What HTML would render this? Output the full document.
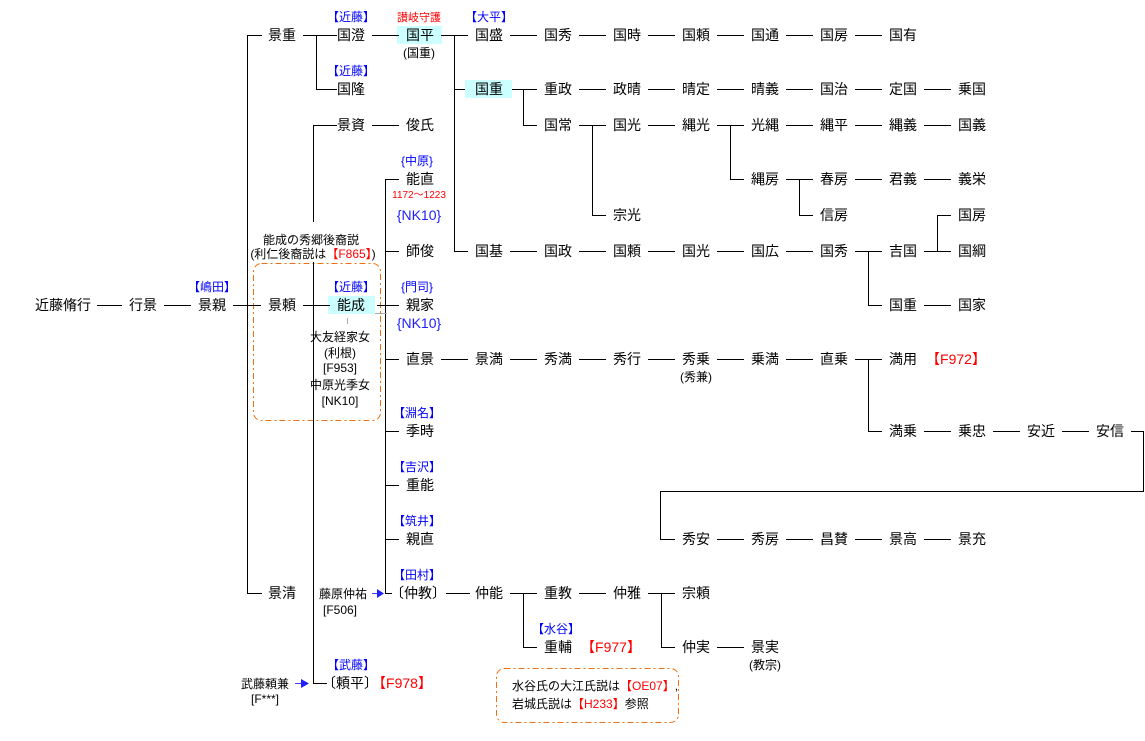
<!DOCTYPE html>
<html><head><meta charset="utf-8"><style>
html,body{margin:0;padding:0;background:#fff;}
svg{display:block;font-family:"Liberation Sans","Noto Sans CJK JP",sans-serif;}
.n{font-size:14px;fill:#000;text-anchor:middle;}
.s{font-size:12px;fill:#000;text-anchor:middle;}
.b{font-size:12px;fill:#0000ff;text-anchor:middle;}
.r{font-size:12px;fill:#ff0000;text-anchor:middle;}
.rn{font-size:14px;fill:#ff0000;text-anchor:middle;}
.bn{font-size:14px;fill:#2020ff;text-anchor:middle;}
</style></head><body>
<svg width="1145" height="741" viewBox="0 0 1145 741">
<!-- highlight boxes -->
<rect x="397" y="26" width="45" height="18" fill="#ccffff"/>
<rect x="465" y="80" width="47" height="18" fill="#ccffff"/>
<rect x="328" y="296" width="47" height="18" fill="#ccffff"/>
<!-- dashed boxes -->
<rect x="253.5" y="263.5" width="127" height="157" rx="8" fill="none" stroke="#f07010" stroke-dasharray="6,3,2,3"/>
<rect x="496.5" y="668.5" width="182" height="54" rx="8" fill="none" stroke="#f07010" stroke-dasharray="6,3,2,3"/>
<g stroke="#000" stroke-width="1" fill="none" shape-rendering="crispEdges">
<!-- row 305 -->
<path d="M97 305.5H122M164 305.5H191M233 305.5H261M303 305.5H330M377 305.5H399"/>
<!-- trunk 247 -->
<path d="M247.5 35V593M247 35.5H262M247 593.5H262"/>
<!-- row 35 -->
<path d="M303 35.5H337M316.5 35V89M316 89.5H337M372 35.5H399M441 35.5H468M454.5 35V251M454 89.5H465M454 251.5H468M510 35.5H537M579 35.5H606M648 35.5H675M717 35.5H744M786 35.5H813M855 35.5H882"/>
<!-- row 89 -->
<path d="M512 89.5H537M523.5 89V125M523 125.5H537M579 89.5H606M648 89.5H675M717 89.5H744M786 89.5H813M855 89.5H882M924 89.5H951"/>
<!-- row 125 -->
<path d="M313 125.5H337M372 125.5H399M579 125.5H606M592.5 125V215M592 215.5H606M648 125.5H675M717 125.5H744M730.5 125V179M730 179.5H744M786 125.5H813M855 125.5H882M924 125.5H951"/>
<!-- row 179/215 -->
<path d="M786 179.5H813M799.5 179V215M799 215.5H813M855 179.5H882M924 179.5H951M937.5 215V251M937 215.5H951"/>
<!-- row 251 -->
<path d="M510 251.5H537M579 251.5H606M648 251.5H675M717 251.5H744M786 251.5H813M855 251.5H882M868.5 251V305M868 305.5H882M924 251.5H951M924 305.5H951"/>
<!-- 313 vertical -->
<path d="M313.5 125V222M313.5 262V683M313 683.5H327"/>
<!-- 385 vertical -->
<path d="M385.5 179V593M385 179.5H399M385 251.5H399M385 359.5H399M385 431.5H399M385 485.5H399M385 539.5H399M385 593.5H392"/>
<!-- row 359 -->
<path d="M441 359.5H468M510 359.5H537M579 359.5H606M648 359.5H675M717 359.5H744M786 359.5H813M855 359.5H882M868.5 359V431M868 431.5H882M924 431.5H951M993 431.5H1020M1062 431.5H1089M1131 431.5H1143.5V491.5H660.5V539M660 539.5H675"/>
<!-- row 539 -->
<path d="M717 539.5H744M786 539.5H813M855 539.5H882M924 539.5H951"/>
<!-- row 593 -->
<path d="M446 593.5H470M510 593.5H537M523.5 593V647M523 647.5H537M579 593.5H606M648 593.5H675M661.5 593V647M661 647.5H675M717 647.5H744"/>
</g>
<path d="M375 313.5H387M347.5 318V324" stroke="#aaa" fill="none" shape-rendering="crispEdges"/>
<!-- arrows -->
<path d="M372 593.5H378" stroke="#4040ff"/><path d="M377 589L384 593.5L377 598Z" fill="#2020ff"/>
<path d="M295 683.5H302" stroke="#4040ff"/><path d="M301 679L309 683.5L301 688Z" fill="#2020ff"/>
<!-- names -->
<g class="n">
<text x="63" y="310">近藤脩行</text><text x="143" y="310">行景</text><text x="212" y="310">景親</text>
<text x="282" y="40">景重</text><text x="282" y="310">景頼</text><text x="282" y="598">景清</text>
<text x="351" y="40">国澄</text><text x="351" y="94">国隆</text><text x="351" y="130">景資</text><text x="351" y="310">能成</text>
<text x="420" y="40">国平</text><text x="420" y="130">俊氏</text><text x="420" y="184">能直</text><text x="420" y="256">師俊</text>
<text x="420" y="310">親家</text><text x="420" y="364">直景</text><text x="420" y="436">季時</text><text x="420" y="490">重能</text>
<text x="420" y="544">親直</text><text x="418" y="598">〔仲教〕</text><text x="350" y="688">〔頼平〕</text>
<text x="489" y="40">国盛</text><text x="489" y="94">国重</text><text x="489" y="256">国基</text><text x="489" y="364">景満</text><text x="489" y="598">仲能</text>
<text x="558" y="40">国秀</text><text x="558" y="94">重政</text><text x="558" y="130">国常</text><text x="558" y="256">国政</text><text x="558" y="364">秀満</text><text x="558" y="598">重教</text><text x="558" y="652">重輔</text>
<text x="627" y="40">国時</text><text x="627" y="94">政晴</text><text x="627" y="130">国光</text><text x="627" y="220">宗光</text><text x="627" y="256">国頼</text><text x="627" y="364">秀行</text><text x="627" y="598">仲雅</text>
<text x="696" y="40">国頼</text><text x="696" y="94">晴定</text><text x="696" y="130">縄光</text><text x="696" y="256">国光</text><text x="696" y="364">秀乗</text><text x="696" y="544">秀安</text><text x="696" y="598">宗頼</text><text x="696" y="652">仲実</text>
<text x="765" y="40">国通</text><text x="765" y="94">晴義</text><text x="765" y="130">光縄</text><text x="765" y="184">縄房</text><text x="765" y="256">国広</text><text x="765" y="364">乗満</text><text x="765" y="544">秀房</text><text x="765" y="652">景実</text>
<text x="834" y="40">国房</text><text x="834" y="94">国治</text><text x="834" y="130">縄平</text><text x="834" y="184">春房</text><text x="834" y="220">信房</text><text x="834" y="256">国秀</text><text x="834" y="364">直乗</text><text x="834" y="544">昌賛</text>
<text x="903" y="40">国有</text><text x="903" y="94">定国</text><text x="903" y="130">縄義</text><text x="903" y="184">君義</text><text x="903" y="256">吉国</text><text x="903" y="310">国重</text><text x="903" y="364">満用</text><text x="903" y="436">満乗</text><text x="903" y="544">景高</text>
<text x="972" y="94">乗国</text><text x="972" y="130">国義</text><text x="972" y="184">義栄</text><text x="972" y="220">国房</text><text x="972" y="256">国綱</text><text x="972" y="310">国家</text><text x="972" y="436">乗忠</text><text x="972" y="544">景充</text>
<text x="1041" y="436">安近</text><text x="1110" y="436">安信</text>
</g>
<g class="rn"><text x="956" y="364">【F972】</text><text x="611" y="652">【F977】</text><text x="402" y="688">【F978】</text></g>
<g class="bn"><text x="419" y="220">{NK10}</text><text x="419" y="328">{NK10}</text></g>
<g class="b">
<text x="351" y="21">【近藤】</text><text x="351" y="75">【近藤】</text><text x="489" y="21">【大平】</text>
<text x="417" y="165">{中原}</text><text x="212" y="291">【嶋田】</text><text x="351" y="291">【近藤】</text><text x="417" y="291">{門司}</text>
<text x="417" y="417">【淵名】</text><text x="417" y="471">【吉沢】</text><text x="417" y="525">【筑井】</text><text x="417" y="579">【田村】</text>
<text x="556" y="633">【水谷】</text><text x="351" y="669">【武藤】</text>
</g>
<text x="419" y="21" class="r" style="font-size:11px">讃岐守護</text>
<text x="419" y="198" class="r" style="font-size:10px">1172〜1223</text>
<g class="s">
<text x="419" y="57">(国重)</text>
<text x="311" y="244">能成の秀郷後裔説</text>
<text x="313" y="258">(利仁後裔説は<tspan fill="#ff0000">【F865】</tspan>)</text>
<text x="340" y="341">大友経家女</text><text x="340" y="357">(利根)</text><text x="340" y="372">[F953]</text>
<text x="340" y="389">中原光季女</text><text x="340" y="405">[NK10]</text>
<text x="696" y="381">(秀兼)</text><text x="765" y="669">(教宗)</text>
<text x="343" y="598">藤原仲祐</text><text x="340" y="614">[F506]</text>
<text x="265" y="688">武藤頼兼</text><text x="265" y="703">[F***]</text>
</g>
<text x="512" y="690" style="font-size:12px">水谷氏の大江氏説は<tspan fill="#ff0000">【OE07】</tspan>,</text>
<text x="512" y="708" style="font-size:12px">岩城氏説は<tspan fill="#ff0000">【H233】</tspan>参照</text>
</svg>
</body></html>
